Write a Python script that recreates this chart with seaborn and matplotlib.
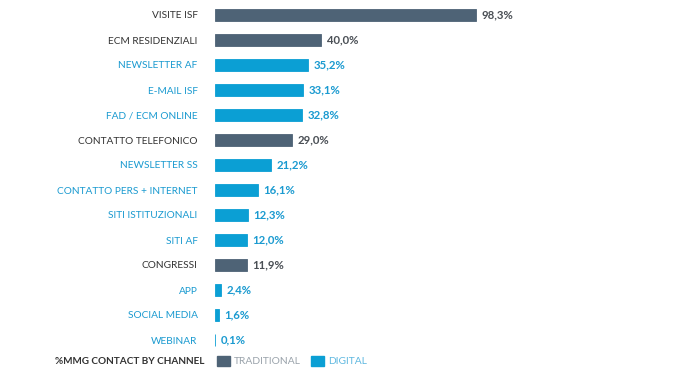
"""MMG contact by channel - horizontal bar chart."""
import pandas as pd
import seaborn as sns
import matplotlib.pyplot as plt
from matplotlib.patches import Patch

channels = [
    "VISITE ISF", "ECM RESIDENZIALI", "NEWSLETTER AF", "E-MAIL ISF",
    "FAD / ECM ONLINE", "CONTATTO TELEFONICO", "NEWSLETTER SS",
    "CONTATTO PERS + INTERNET", "SITI ISTITUZIONALI", "SITI AF",
    "CONGRESSI", "APP", "SOCIAL MEDIA", "WEBINAR",
]
shares = [98.3, 40.0, 35.2, 33.1, 32.8, 29.0, 21.2, 16.1, 12.3, 12.0, 11.9, 2.4, 1.6, 0.1]
kinds = [
    "TRADITIONAL", "TRADITIONAL", "DIGITAL", "DIGITAL", "DIGITAL",
    "TRADITIONAL", "DIGITAL", "DIGITAL", "DIGITAL", "DIGITAL",
    "TRADITIONAL", "DIGITAL", "DIGITAL", "DIGITAL",
]

palette = {"TRADITIONAL": "#4e6376", "DIGITAL": "#0b9fd4"}
label_colors = {"TRADITIONAL": "#333333", "DIGITAL": "#1a9ad0"}
value_colors = {"TRADITIONAL": "#4a4f55", "DIGITAL": "#1a9ad0"}

df = pd.DataFrame({"Channel": channels, "Share": shares, "Kind": kinds})

sns.set_theme(style="white")
plt.rcParams["font.family"] = ["Lato", "DejaVu Sans"]

fig = plt.figure(figsize=(6.93, 3.74), dpi=100)
ax = fig.add_axes([215 / 693, 0, 478 / 693, 1])
sns.barplot(
    data=df, y="Channel", x="Share", hue="Kind", palette=palette,
    order=channels, dodge=False, width=0.48, legend=False, ax=ax,
    saturation=1, linewidth=0.6,
)
for patch in ax.patches:
    patch.set_edgecolor(patch.get_facecolor())
ax.set_xlim(0, 180)
ax.set_ylim(14.36, -0.6)
ax.set_xlabel("")
ax.set_ylabel("")
ax.set_xticks([])
sns.despine(ax=ax, left=True, bottom=True)
ax.tick_params(axis="y", length=0, pad=12.5, labelsize=7.3)
for lbl, kind in zip(ax.get_yticklabels(), kinds):
    lbl.set_color(label_colors[kind])

# value labels next to each bar
for patch in ax.patches:
    w = patch.get_width()
    if patch.get_height() == 0:
        continue
    yc = patch.get_y() + patch.get_height() / 2
    idx = int(round(yc))
    ax.text(w + 2.0, yc, f"{shares[idx]:.1f}%".replace(".", ","),
            va="center", ha="left", fontsize=8.2, fontweight="bold",
            color=value_colors[kinds[idx]])

# legend row
fig.text(204 / 693, 1 - 361 / 374, "%MMG CONTACT BY CHANNEL", ha="right",
         va="center", fontsize=7.2, fontweight="bold", color="#333333")
handles = [Patch(color=palette[k]) for k in ["TRADITIONAL", "DIGITAL"]]
leg = fig.legend(
    handles, ["TRADITIONAL", "DIGITAL"], ncol=2, frameon=False,
    loc="center left", bbox_to_anchor=(208 / 693, 1 - 361 / 374),
    fontsize=7.4, handlelength=1.2, handleheight=1.2, handletextpad=0.45,
    columnspacing=1.0,
)
for t in leg.get_texts():
    t.set_color("#9aa3ab")
leg.get_texts()[1].set_color("#5fb8e0")

fig.savefig("out.png", dpi=100)
